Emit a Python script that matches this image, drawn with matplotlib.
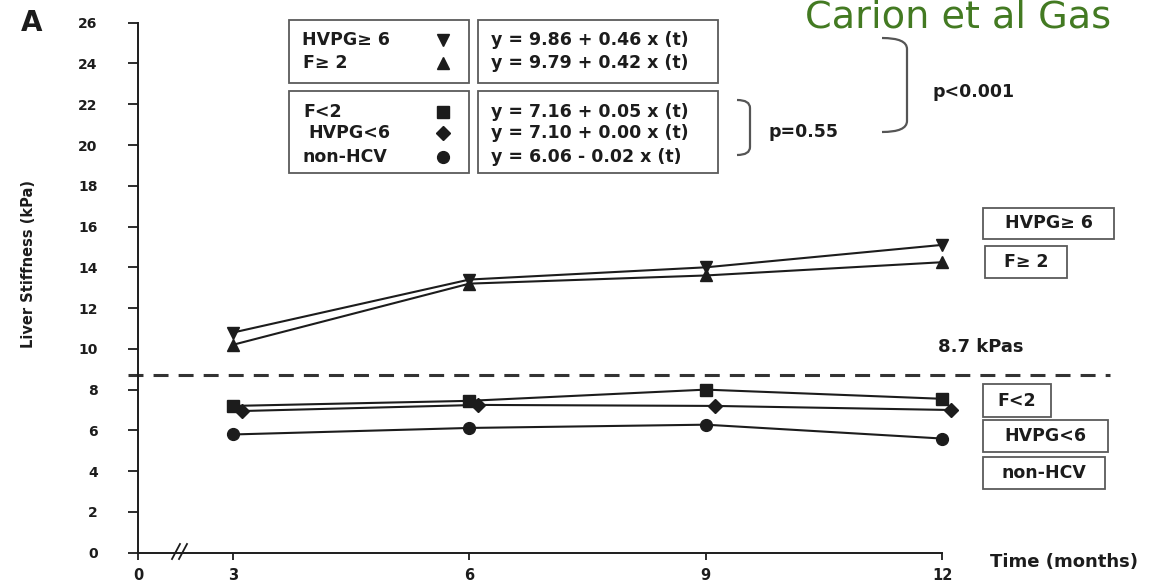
import matplotlib
matplotlib.use("Agg")
import matplotlib.pyplot as plt
import matplotlib.transforms as mtransforms
from matplotlib.lines import Line2D
from matplotlib.patches import Rectangle, PathPatch
from matplotlib.path import Path

# ---------------- data ----------------
months = [3, 6, 9, 12]
hvpg_high = [10.8, 13.4, 14.0, 15.1]     # HVPG≥ 6
f_high = [10.2, 13.2, 13.6, 14.25]       # F≥ 2
f_low = [7.2, 7.45, 8.0, 7.55]           # F<2
hvpg_low = [6.95, 7.25, 7.2, 7.0]        # HVPG<6
non_hcv = [5.8, 6.12, 6.28, 5.6]         # non-HCV
threshold = 8.7
threshold_label = "8.7 kPas"
y_ticks = list(range(0, 27, 2))
x_tick_labels = ["0", "3", "6", "9", "12"]
series_names = ["HVPG\u2265 6", "F\u2265 2", "F<2", "HVPG<6", "non-HCV"]
equations = ["y = 9.86 + 0.46 x (t)", "y = 9.79 + 0.42 x (t)",
             "y = 7.16 + 0.05 x (t)", "y = 7.10 + 0.00 x (t)",
             "y = 6.06 - 0.02 x (t)"]
p_values = ["p<0.001", "p=0.55"]
x_label = "Time (months)"
y_label = "Liver Stiffness (kPa)"
panel_label = "A"
source_text = "Carion et al Gas"

# ---------------- style ----------------
W, H = 1158, 583
plt.rcParams["font.family"] = ["DejaVu Sans"]
plt.rcParams["font.weight"] = "bold"
INK = "#1c1c1c"
BOX = "#5a5a5a"
GREEN = "#437a22"
markers = ["v", "^", "s", "D", "o"]
msizes = [9, 9, 8.5, 6.8, 8.5]
FS = 12.5

fig = plt.figure(figsize=(W / 100, H / 100), dpi=100)
pix = mtransforms.Affine2D().scale(1 / W, -1 / H).translate(0, 1) + fig.transFigure

# axis geometry (break: "0" sits at BREAK_X)
BREAK_X = 1.794
X_RIGHT = 14.13
ax = fig.add_axes([138 / W, 1 - 552.7 / H, (1110 - 138) / W, 530 / H])
ax.set_xlim(BREAK_X, X_RIGHT)
ax.set_ylim(0, 26)
for s in ("top", "right"):
    ax.spines[s].set_visible(False)
for s in ("left", "bottom"):
    ax.spines[s].set_linewidth(1.4)
    ax.spines[s].set_color(INK)
ax.spines["left"].set_bounds(0, 26)
ax.spines["bottom"].set_bounds(BREAK_X, 12)

ax.set_yticks(y_ticks)
ax.set_yticklabels([str(v) for v in y_ticks])
ax.set_xticks([BREAK_X] + months)
ax.set_xticklabels(x_tick_labels)
ax.tick_params(axis="y", direction="out", length=7, width=1.3, pad=22,
               labelsize=10, colors=INK)
ax.tick_params(axis="x", direction="out", length=5, width=1.3, pad=6,
               labelsize=10.5, colors=INK)

# series
series = [hvpg_high, f_high, f_low, hvpg_low, non_hcv]
diamond_shift = mtransforms.offset_copy(ax.transData, fig=fig, x=6.5, y=0, units="points")
for i, vals in enumerate(series):
    kw = dict(color=INK, lw=1.5, marker=markers[i], ms=msizes[i],
              mfc=INK, mec=INK, clip_on=False, zorder=3)
    if i == 3:
        kw["transform"] = diamond_shift
    ax.plot(months, vals, **kw)

# threshold dashed line
ax.axhline(threshold, xmin=-0.01, color="#333333", lw=2.2,
           dashes=(4.9, 3.3), clip_on=False, zorder=2)

# ---------------- annotations (pixel layout) ----------------
def box(x, y, w, h):
    fig.add_artist(Rectangle((x, y), w, h, transform=pix, fill=False,
                             ec=BOX, lw=1.3))

def txt(x, y, s, **kw):
    d = dict(transform=pix, fontsize=FS, color=INK, fontweight="bold",
             va="center", ha="left")
    d.update(kw)
    fig.text(x, y, s, **d)

# top legend boxes
box(289, 20, 180, 63)
box(478, 20, 240, 63)
box(289, 91, 180, 82)
box(478, 91, 240, 82)
leg_rows = [40, 63, 112, 133, 157]
leg_x = [302, 303, 303, 308, 303]
for i in range(5):
    txt(leg_x[i], leg_rows[i], series_names[i])
    txt(491, leg_rows[i], equations[i])
    fig.add_artist(Line2D([443], [leg_rows[i]], transform=pix, ls="none",
                          marker=markers[i], ms=msizes[i], color=INK))

# braces
def brace(x0, x1, y0, y1, r):
    verts = [(x0, y0), (x1, y0), (x1, y0 + r), (x1, y1 - r), (x1, y1), (x0, y1)]
    codes = [Path.MOVETO, Path.CURVE3, Path.CURVE3, Path.LINETO, Path.CURVE3, Path.CURVE3]
    fig.add_artist(PathPatch(Path(verts, codes), transform=pix, fill=False,
                             ec="#555555", lw=1.6))

brace(882, 907, 38, 132, 11)
brace(737, 750, 100, 155, 8)
txt(933, 92, p_values[0])
txt(768, 132, p_values[1])

# right-hand labels
right_boxes = [(983, 208, 131, 31), (985, 246, 82, 32), (983, 384, 68, 33),
               (983, 420, 125, 32), (983, 457, 122, 32)]
for (bx, by, bw, bh), name in zip(right_boxes, series_names):
    box(bx, by, bw, bh)
    txt(bx + bw / 2, by + bh / 2, name, ha="center")

txt(981, 347, threshold_label, ha="center", fontsize=13)
txt(990, 562, x_label, fontsize=13)
txt(29, 264, y_label, ha="center", rotation=90, fontsize=10.5)
txt(32, 23, panel_label, ha="center", fontsize=20)

# axis break marks
for dx in (0, 7):
    fig.add_artist(Line2D([172 + dx, 180 + dx], [559, 544], transform=pix,
                          color=INK, lw=1.3))

# source caption (top right)
fig.text(805, 28, source_text, transform=pix, fontsize=27.5, color=GREEN,
         fontweight="normal", ha="left", va="baseline")

fig.savefig("out.png", dpi=100)
